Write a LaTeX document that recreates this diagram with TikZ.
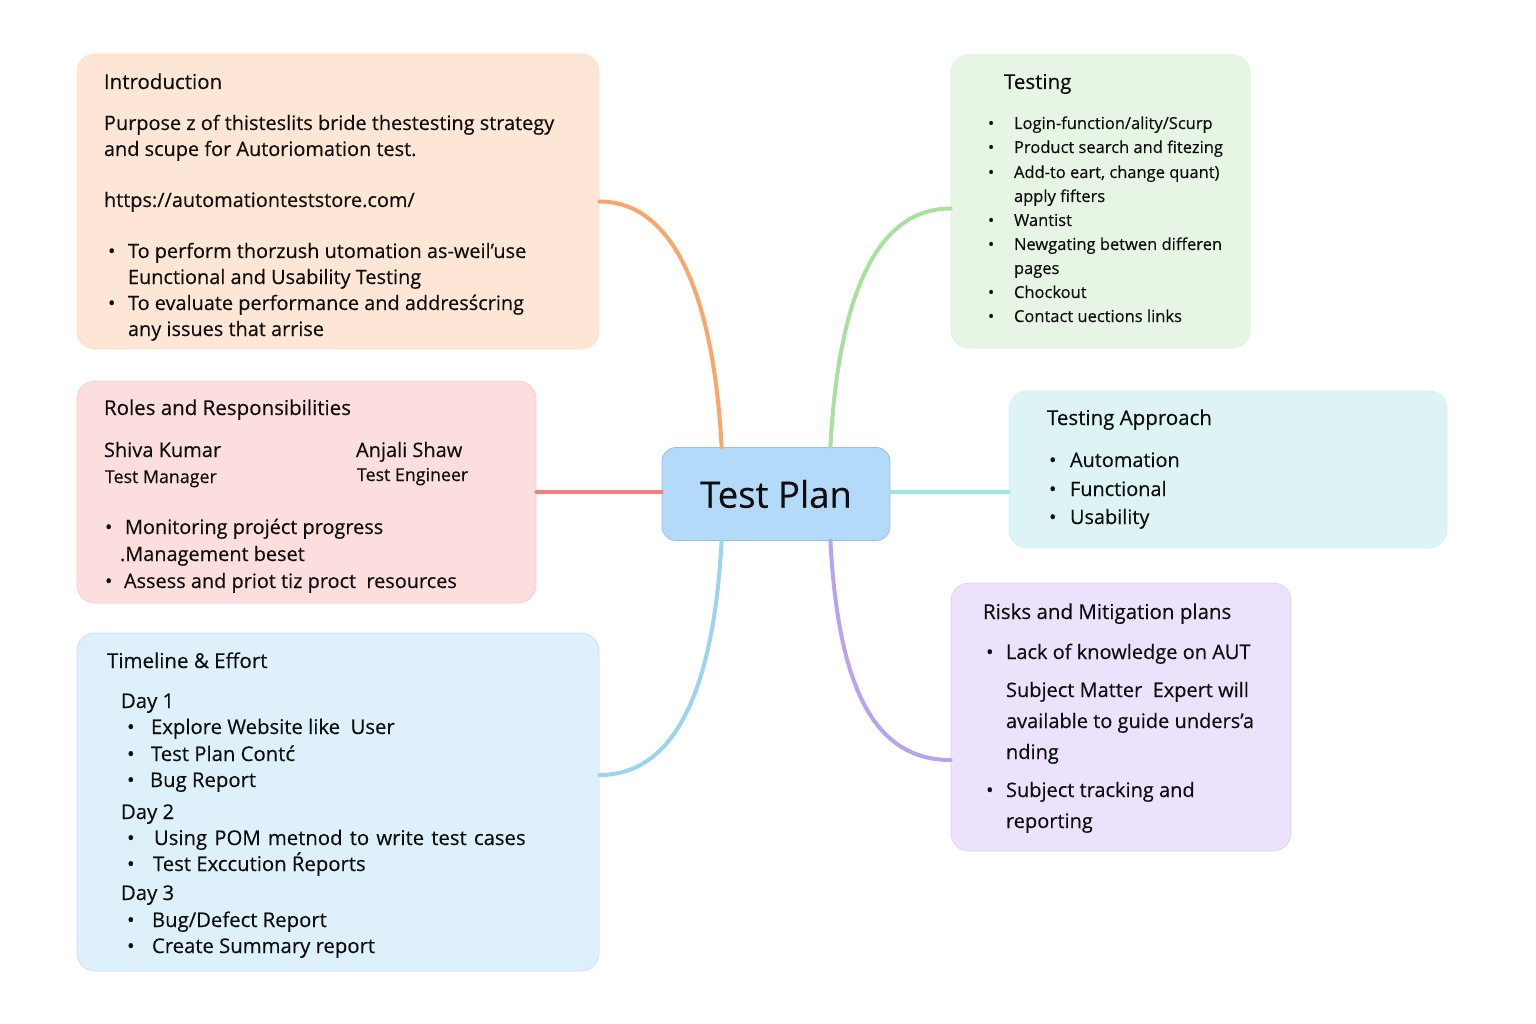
\documentclass[tikz,border=0pt]{standalone}
\usepackage{fontspec}
\setmainfont{Open Sans}[FakeBold=0.35]
\definecolor{cintro}{RGB}{254,230,214}
\definecolor{croles}{RGB}{252,222,222}
\definecolor{ctime}{RGB}{222,240,249}
\definecolor{ctest}{RGB}{231,245,229}
\definecolor{cappr}{RGB}{222,243,244}
\definecolor{crisk}{RGB}{236,226,252}
\definecolor{ccent}{RGB}{179,218,248}
\definecolor{lorange}{RGB}{249,166,108}
\definecolor{lgreen}{RGB}{168,224,160}
\definecolor{lred}{RGB}{242,128,128}
\definecolor{lteal}{RGB}{158,230,216}
\definecolor{lblue}{RGB}{155,212,236}
\definecolor{lpurple}{RGB}{185,163,240}
\definecolor{ink}{RGB}{14,14,14}
\tikzset{
  box/.style={rectangle, rounded corners=18pt, inner sep=0pt, line width=0.8pt},
  txt/.style={anchor=base west, inner sep=0pt, outer sep=0pt, text=ink},
  head/.style={txt, font=\fontsize{20.5}{24}\selectfont},
  body/.style={txt, font=\fontsize{19.9}{23}\selectfont},
  tbody/.style={txt, font=\fontsize{20.3}{24}\selectfont},
  small/.style={txt, font=\fontsize{16.5}{20}\selectfont},
  rbody/.style={txt, font=\fontsize{20}{24}\selectfont},
  conn/.style={line width=4pt, line cap=round},
}
\begin{document}
\begin{tikzpicture}[x=1pt,y=-1pt]
\useasboundingbox (0,0) rectangle (1536,1024);
\fill[white] (0,0) rectangle (1536,1024);

% boxes
\node[box, fill=cintro, draw=cintro!92!orange, minimum width=522pt, minimum height=295pt] (intro) at (338,201.5) {};
\node[box, fill=croles, draw=croles!92!red, minimum width=459pt, minimum height=222pt] (roles) at (306.5,492) {};
\node[box, fill=ctime, draw=ctime!92!blue, minimum width=522pt, minimum height=338pt] (timeline) at (338,802) {};
\node[box, fill=ctest, draw=ctest!92!green, minimum width=299pt, minimum height=293pt] (testing) at (1100.5,201.5) {};
\node[box, fill=cappr, draw=cappr!92!cyan, minimum width=438pt, minimum height=157pt] (approach) at (1228,469.5) {};
\node[box, fill=crisk, draw=crisk!92!violet, minimum width=340pt, minimum height=268pt] (risks) at (1121,717) {};
\node[box, rounded corners=14pt, fill=ccent, draw=ccent!85!blue, minimum width=228pt, minimum height=93pt, font=\fontsize{36.5}{40}\selectfont, text=ink] (center) at (776,494) {Test Plan};

% connectors
\draw[conn, lorange] (intro.east) .. controls +(75,0) and +(-8,-150) .. ([xshift=60pt]center.north west);
\draw[conn, lgreen] ([xshift=-60pt]center.north east) .. controls +(8,-150) and +(-75,0) .. ([yshift=-7pt]testing.west);
\draw[conn, lred] (roles.east) -- (roles.east -| center.west);
\draw[conn, lteal] ([yshift=2pt]center.east) -- ([yshift=2pt]center.east -| approach.west);
\draw[conn, lblue] ([xshift=60pt]center.south west) .. controls +(-8,150) and +(75,0) .. ([yshift=27pt]timeline.east);
\draw[conn, lpurple] ([xshift=-60pt]center.south east) .. controls +(8,150) and +(-75,0) .. ([yshift=-43pt]risks.west);

% Introduction
\node[head] (ih) at (104,89) {Introduction};
\node[body] (i1) at (104,130) {Purpose z of thisteslits bride thestesting strategy};
\node[body] (i2) at (104,156) {and scupe for Autoriomation test.};
\node[body] (i3) at (104,207) {https://automationteststore.com/};
\node[body] (ib1) at (108,258) {•};
\node[body] (i4) at (128,258) {To perform thorzush utomation as-weil’use};
\node[body] (i5) at (128,284) {Eunctional and Usability Testing};
\node[body] (ib2) at (108,310) {•};
\node[body] (i6) at (128,310) {To evaluate performance and addresścring};
\node[body] (i7) at (128,336) {any issues that arrise};

% Roles
\node[head] (rh) at (104,415) {Roles and Responsibilities};
\node[rbody] (r1) at (104,457) {Shiva Kumar};
\node[txt, font=\fontsize{17.8}{21}\selectfont] (r2) at (105,483) {Test Manager};
\node[rbody] (r3) at (356,457) {Anjali Shaw};
\node[txt, font=\fontsize{17.8}{21}\selectfont] (r4) at (357,481) {Test Engineer};
\node[body] (rb1) at (105,534) {•};
\node[body] (r5) at (125,534) {Monitoring projéct progress};
\node[body] (r6) at (120,561) {.Management beset};
\node[body] (rb2) at (105,588) {•};
\node[body] (r7) at (124,588) {Assess and priot tiz proct\ \ resources};

% Timeline
\node[head] (th) at (107,668) {Timeline \& Effort};
\node[tbody] (d1) at (121,708) {Day 1};
\node[tbody] (tb1) at (127,734) {•};
\node[tbody] (t1) at (151,734) {Explore Website like\ \ User};
\node[tbody] (tb2) at (127,761) {•};
\node[tbody] (t2) at (151,761) {Test Plan Contć};
\node[tbody] (tb3) at (127,787) {•};
\node[tbody] (t3) at (150,787) {Bug Report};
\node[tbody] (d2) at (121,819) {Day 2};
\node[tbody] (tb4) at (127,845) {•};
\node[tbody] (t4) at (154,845) {\spaceskip=7.2pt Using POM metnod to write test cases};
\node[tbody] (tb5) at (127,871) {•};
\node[tbody] (t5) at (153,871) {Test Exccution Ŕeports};
\node[tbody] (d3) at (121,900) {Day 3};
\node[tbody] (tb6) at (127,927) {•};
\node[tbody] (t6) at (152,927) {Bug/Defect Report};
\node[tbody] (tb7) at (127,953) {•};
\node[tbody] (t7) at (152,953) {Create Summary report};

% Testing
\node[head] (sh) at (1004,89) {Testing};
\node[small] (sb1) at (988,129) {•};
\node[small] (s1) at (1014,129) {Login-function/ality/Scurp};
\node[small] (sb2) at (988,153) {•};
\node[small] (s2) at (1014,153) {Product search and fitezing};
\node[small] (sb3) at (988,178) {•};
\node[small] (s3) at (1014,178) {Add-to eart, change quant)};
\node[small] (s4) at (1014,202) {apply fifters};
\node[small] (sb4) at (988,226) {•};
\node[small] (s5) at (1014,226) {Wantist};
\node[small] (sb5) at (988,250) {•};
\node[small] (s6) at (1014,250) {Newgating betwen differen};
\node[small] (s7) at (1014,274) {pages};
\node[small] (sb6) at (988,298) {•};
\node[small] (s8) at (1014,298) {Chockout};
\node[small] (sb7) at (988,322) {•};
\node[small] (s9) at (1014,322) {Contact uections links};

% Testing Approach
\node[head] (ah) at (1047,425) {Testing Approach};
\node[body] (ab1) at (1049,467) {•};
\node[body] (a1) at (1070,467) {Automation};
\node[body] (ab2) at (1049,496) {•};
\node[body] (a2) at (1070,496) {Functional};
\node[body] (ab3) at (1049,524) {•};
\node[body] (a3) at (1070,524) {Usability};

% Risks
\node[head] (kh) at (983,619) {Risks and Mitigation plans};
\node[rbody] (kb1) at (986,659) {•};
\node[rbody] (k1) at (1006,659) {Lack of knowledge on AUT};
\node[rbody] (k2) at (1006,697) {Subject Matter\ \ Expert will};
\node[rbody] (k3) at (1006,728) {available to guide unders’a};
\node[rbody] (k4) at (1006,759) {nding};
\node[rbody] (kb2) at (986,797) {•};
\node[rbody] (k5) at (1006,797) {Subject tracking and};
\node[rbody] (k6) at (1006,828) {reporting};
\end{tikzpicture}
\end{document}
